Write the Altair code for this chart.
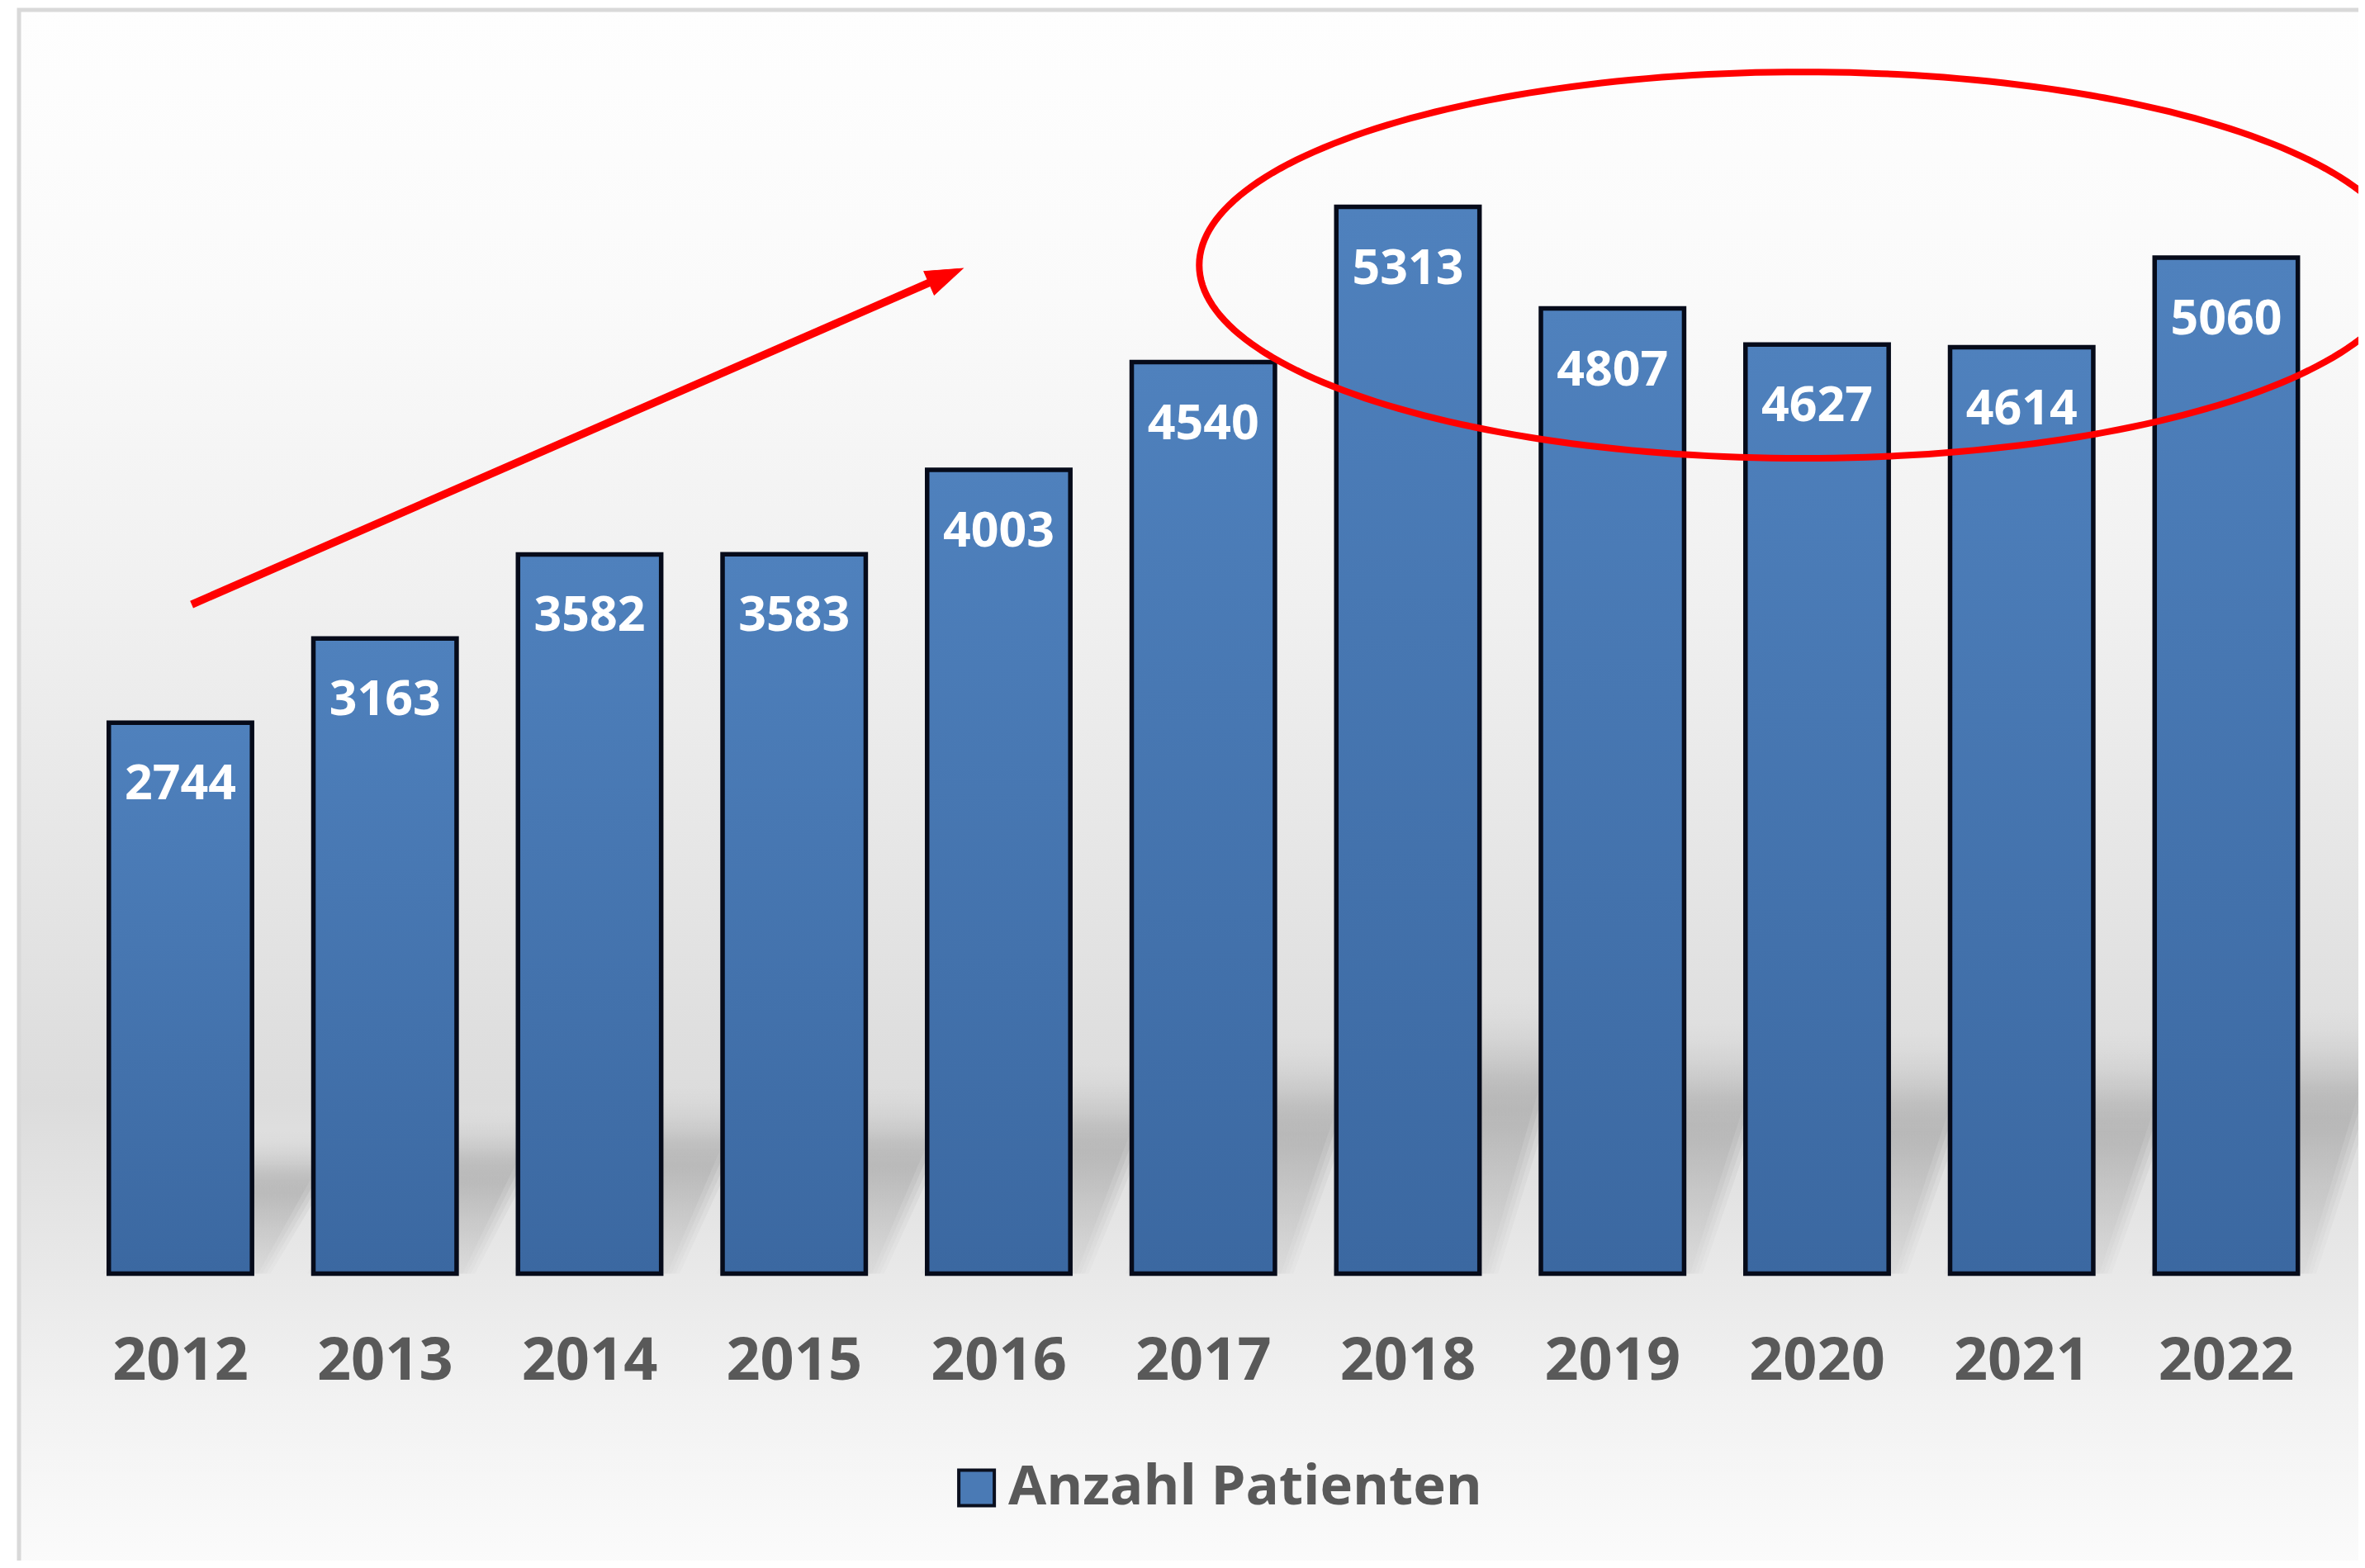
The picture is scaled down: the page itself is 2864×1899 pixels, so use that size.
import altair as alt
import pandas as pd
import numpy as np

# ---------------- data ----------------
years = ["2012", "2013", "2014", "2015", "2016", "2017", "2018", "2019", "2020", "2021", "2022"]
patients = [2744, 3163, 3582, 3583, 4003, 4540, 5313, 4807, 4627, 4614, 5060]
series_name = ["Anzahl Patienten"]

# ---------------- layout ----------------
W = 2725.25
H = 1459
PAD_L, PAD_T = 86.6, 75.5
PAD_R = 2848 - PAD_L - W
PAD_B = 1882 - PAD_T - H
Y_DOMAIN = [0, 6000]
XQ_DOMAIN = [-0.5, 10.5]  # continuous twin of the band scale (band centres at 0..10)

FONT = "Open Sans"

df = pd.DataFrame({
    "Jahr": years,
    "Patienten": patients,
    "Serie": series_name * len(years),
})

# soft perspective shadows derived from the values (several faint copies = blur)
HALF = 0.35
shadow_rows = []
for k, (skew, ratio, dx) in enumerate([(0.36, 0.20, -0.03), (0.40, 0.22, -0.01),
                                       (0.44, 0.24, 0.01), (0.48, 0.26, 0.03)]):
    for i, v in enumerate(patients):
        key = f"{years[i]}-{k}"
        shadow_rows.append({"key": key, "y": 0, "x1": i - HALF + dx, "x2": i + HALF + dx + 0.06})
        shadow_rows.append({"key": key, "y": v * ratio, "x1": i - HALF + skew + dx,
                            "x2": i + HALF + skew + dx})
shadow_df = pd.DataFrame(shadow_rows)

# annotation: arrow and ellipse (in data units)
arrow_x = [0.055, 3.66]
arrow_y = [3333, 4935]
head_x, head_y, head_angle = [3.742], [4970], 66.4
ell_cx, ell_cy, ell_a, ell_b = 7.93, 5023, 2.95, 962
t = np.linspace(0, 2 * np.pi, 241)
ell_df = pd.DataFrame({"t": np.arange(len(t)),
                       "x": ell_cx + ell_a * np.cos(t),
                       "y": ell_cy + ell_b * np.sin(t)})
arrow_df = pd.DataFrame({"x": arrow_x, "y": arrow_y, "o": [0, 1]})
head_df = pd.DataFrame({"x": head_x, "y": head_y})

yscale = alt.Scale(domain=Y_DOMAIN)
xq = alt.Scale(domain=XQ_DOMAIN)
xband = alt.Scale(paddingInner=0.3, paddingOuter=0.15)

bg_gradient = {
    "gradient": "linear", "x1": 0, "y1": 0, "x2": 0, "y2": 1,
    "stops": [
        {"offset": 0.0, "color": "#fefefe"},
        {"offset": 0.18, "color": "#fafafa"},
        {"offset": 0.37, "color": "#f0f0f0"},
        {"offset": 0.56, "color": "#e4e4e4"},
        {"offset": 0.684, "color": "#dcdcdc"},
        {"offset": 0.778, "color": "#e7e7e7"},
        {"offset": 0.872, "color": "#f2f2f2"},
        {"offset": 1.0, "color": "#fdfdfd"},
    ],
}
bar_gradient = {
    "gradient": "linear", "x1": 0, "y1": 0, "x2": 0, "y2": 1,
    "stops": [
        {"offset": 0.0, "color": "#4f81bd"},
        {"offset": 1.0, "color": "#3b68a1"},
    ],
}
shadow_gradient = {
    "gradient": "linear", "x1": 0, "y1": 0, "x2": 0, "y2": 1,
    "stops": [
        {"offset": 0.0, "color": "rgba(140,140,140,0.0)"},
        {"offset": 0.3, "color": "rgba(140,140,140,0.16)"},
        {"offset": 1.0, "color": "rgba(170,170,170,0.06)"},
    ],
}

background = alt.Chart(pd.DataFrame({"d": [0]})).mark_rect(
    fill=bg_gradient, stroke="#d9d9d9", strokeWidth=5
).encode(
    x=alt.value(-71.6), x2=alt.value(W + 80),
    y=alt.value(-71.5), y2=alt.value(H + 400),
)

shadows = alt.Chart(shadow_df).mark_area(orient="horizontal", fill=shadow_gradient).encode(
    y=alt.Y("y:Q", scale=yscale, axis=None),
    x=alt.X("x1:Q", scale=xq, axis=None),
    x2="x2:Q",
    detail="key:N",
)

bars = alt.Chart(df).mark_bar(
    fill=bar_gradient, stroke="#060b1a", strokeWidth=5.5
).encode(
    x=alt.X("Jahr:N", sort=years, scale=xband,
            axis=alt.Axis(title=None, orient="bottom", domain=False, ticks=False, grid=False,
                          labelAngle=0, labelFont=FONT, labelFontSize=72,
                          labelFontWeight="bold", labelColor="#595959",
                          labelBaseline="middle", labelPadding=106, zindex=2)),
    y=alt.Y("Patienten:Q", scale=yscale, axis=None),
    color=alt.Color("Serie:N", scale=alt.Scale(range=["#4a7ab5"]),
                    legend=alt.Legend(orient="none", legendX=1054.5, legendY=1685,
                                      title=None, symbolType="square", symbolSize=1850,
                                      symbolStrokeColor="#0a0f1e", symbolStrokeWidth=4,
                                      symbolOpacity=1, labelFont=FONT, labelFontSize=67,
                                      labelFontWeight="bold",
                                      labelColor="#595959", labelOffset=5, labelLimit=2000,
                                      padding=0, zindex=2)),
)

labels = alt.Chart(df).mark_text(
    font=FONT, fontSize=59, fontWeight="bold", color="#ffffff",
    baseline="middle", align="center", dy=75
).encode(
    x=alt.X("Jahr:N", sort=years, scale=xband, axis=None),
    y=alt.Y("Patienten:Q", scale=yscale, axis=None),
    text="Patienten:Q",
)

arrow = alt.Chart(arrow_df).mark_line(color="#ff0000", strokeWidth=9.5, strokeCap="butt").encode(
    x=alt.X("x:Q", scale=xq, axis=None),
    y=alt.Y("y:Q", scale=yscale, axis=None),
    order="o:Q",
)

head = alt.Chart(head_df).mark_point(
    shape="M0,-1L0.7,1L-0.7,1Z", filled=True, fill="#ff0000", stroke="#ff0000",
    strokeWidth=1, opacity=1, size=2000, angle=head_angle
).encode(
    x=alt.X("x:Q", scale=xq, axis=None),
    y=alt.Y("y:Q", scale=yscale, axis=None),
)

ellipse = alt.Chart(ell_df).mark_line(color="#ff0000", strokeWidth=8, clip=False).encode(
    x=alt.X("x:Q", scale=xq, axis=None),
    y=alt.Y("y:Q", scale=yscale, axis=None),
    order="t:Q",
)

chart = alt.layer(background, shadows, bars, labels, arrow, head, ellipse).resolve_scale(
    x="independent"
).properties(
    width=W, height=H,
    autosize=alt.AutoSizeParams(type="none"),
    padding={"left": PAD_L, "top": PAD_T, "right": PAD_R, "bottom": PAD_B},
    background="white",
).configure_view(strokeWidth=0)

chart.save("out.html", embed_options={"renderer": "svg", "actions": False})
